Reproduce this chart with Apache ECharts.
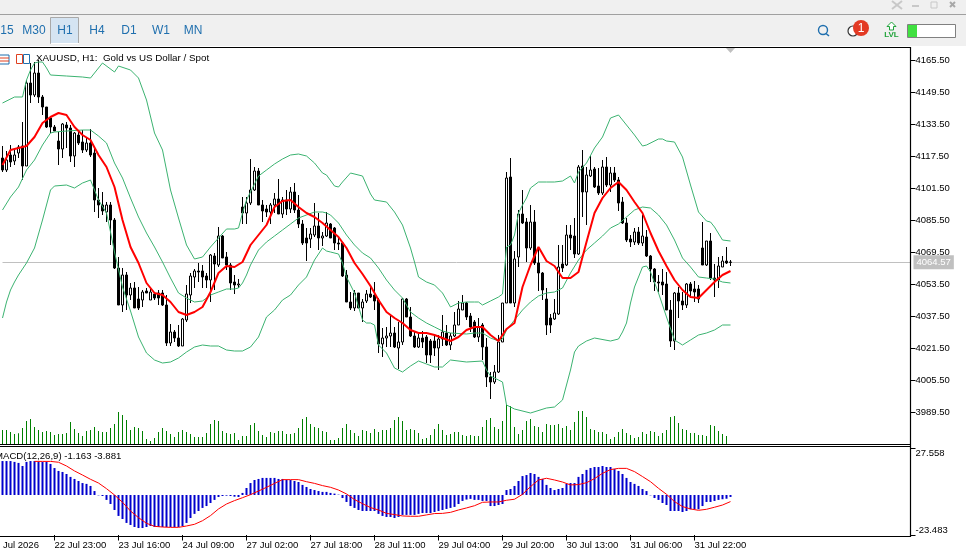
<!DOCTYPE html>
<html><head><meta charset="utf-8">
<style>html,body{margin:0;padding:0;background:#fff;overflow:hidden}#c{width:966px;height:551px}</style>
<script src="https://cdn.jsdelivr.net/npm/echarts@6/dist/echarts.min.js"></script>
</head><body><div id="c"></div>
<script>
const opens=[4116.75,4110.75,4118.25,4115.25,4119.25,4122.75,4112.75,4154.25,4148.25,4159.25,4147.25,4142.25,4136.75,4132.25,4125.25,4121.25,4133.25,4131.75,4117.75,4128.25,4124.75,4120.75,4124.25,4119.25,4095.75,4093.25,4089.75,4093.25,4085.75,4061.75,4043.25,4058.25,4048.25,4051.75,4046.25,4045.75,4050.25,4045.75,4048.75,4049.25,4049.25,4043.25,4024.25,4029.75,4026.75,4022.75,4035.75,4048.25,4057.25,4060.25,4060.25,4057.75,4055.75,4067.75,4063.25,4077.75,4067.25,4063.25,4054.75,4053.25,4092.25,4089.25,4094.25,4100.75,4110.25,4093.25,4091.25,4089.75,4093.25,4096.25,4088.75,4095.75,4091.25,4099.75,4090.75,4083.75,4076.75,4076.25,4078.25,4082.75,4076.75,4077.75,4083.75,4081.75,4074.25,4074.25,4058.25,4044.75,4041.75,4049.25,4041.75,4045.25,4048.75,4048.25,4045.75,4023.75,4026.75,4027.75,4029.25,4021.75,4024.75,4046.25,4037.25,4027.75,4022.25,4026.75,4027.25,4025.25,4025.25,4021.75,4026.25,4029.25,4023.25,4027.75,4033.25,4040.75,4044.25,4037.75,4034.75,4027.25,4033.25,4022.25,4007.25,4004.75,4009.75,4024.75,4044.25,4107.25,4044.25,4067.25,4088.75,4084.75,4071.75,4084.75,4064.25,4059.25,4046.25,4036.75,4036.25,4038.75,4063.75,4063.25,4078.25,4077.75,4068.75,4112.75,4099.75,4107.75,4111.25,4102.75,4099.25,4112.25,4103.25,4109.25,4105.75,4094.75,4084.25,4076.25,4074.75,4079.75,4074.25,4077.25,4067.75,4061.25,4054.75,4054.75,4053.75,4040.75,4025.25,4049.25,4045.25,4043.25,4053.75,4051.25,4051.25,4071.75,4063.25,4075.25,4056.75,4055.75,4062.25,4065.25,4064.75];
const closes=[4110.75,4115.75,4114.75,4118.25,4122.25,4112.75,4154.25,4148.25,4159.25,4147.25,4142.25,4132.25,4132.25,4130.25,4121.25,4133.75,4131.75,4117.75,4129.25,4124.25,4120.75,4124.25,4118.25,4095.75,4093.25,4090.25,4093.25,4085.75,4061.75,4043.25,4058.25,4048.25,4051.75,4041.75,4041.75,4049.75,4049.25,4049.75,4046.75,4046.75,4043.25,4024.25,4029.75,4026.75,4022.75,4036.25,4048.75,4057.75,4060.25,4059.75,4057.25,4055.75,4068.25,4063.75,4077.75,4066.75,4063.25,4054.25,4053.25,4053.75,4089.25,4094.25,4100.75,4110.25,4093.25,4090.25,4089.75,4093.25,4096.25,4088.75,4095.75,4091.25,4099.75,4090.75,4083.75,4074.25,4074.25,4078.75,4082.75,4076.75,4077.75,4084.25,4076.75,4074.25,4073.75,4057.75,4044.75,4041.75,4049.25,4041.75,4044.75,4048.75,4047.25,4045.25,4023.75,4026.75,4027.75,4029.25,4022.25,4024.75,4046.25,4037.25,4027.75,4022.25,4026.75,4024.75,4018.25,4018.25,4021.75,4026.25,4029.75,4023.25,4027.75,4033.25,4041.25,4044.25,4037.25,4032.25,4027.25,4032.25,4022.25,4007.25,4004.75,4009.75,4024.75,4044.25,4106.75,4044.25,4066.25,4088.75,4084.25,4071.75,4084.75,4064.25,4059.25,4050.75,4033.25,4033.25,4039.25,4062.25,4061.75,4078.25,4076.75,4068.75,4112.25,4099.75,4108.25,4110.75,4102.25,4099.25,4112.25,4103.25,4109.25,4105.75,4094.25,4084.25,4075.75,4074.75,4079.75,4074.25,4077.75,4067.75,4061.25,4054.75,4054.25,4053.25,4040.75,4025.25,4049.25,4045.25,4043.25,4053.75,4050.25,4049.75,4046.25,4063.25,4075.25,4056.75,4055.75,4062.75,4065.25,4064.25,4064.57];
const lows=[4109.75,4109.75,4112.25,4113.25,4116.75,4105.75,4112.75,4144.25,4147.25,4144.25,4138.25,4131.75,4129.25,4130.25,4113.25,4116.75,4121.75,4114.75,4112.25,4123.25,4119.25,4119.75,4117.25,4089.75,4086.75,4088.25,4084.75,4073.25,4061.25,4043.25,4039.75,4040.75,4045.75,4041.75,4040.75,4042.25,4049.25,4045.75,4045.75,4043.25,4042.75,4022.75,4022.75,4024.75,4022.25,4022.75,4034.75,4044.25,4051.75,4054.75,4051.75,4051.75,4044.75,4050.75,4062.25,4066.75,4060.75,4050.75,4048.75,4051.75,4083.75,4083.75,4093.25,4100.25,4093.25,4084.75,4087.25,4083.75,4089.25,4088.75,4086.75,4088.25,4089.25,4089.25,4081.75,4073.25,4065.25,4071.75,4077.25,4070.75,4072.75,4077.25,4076.75,4070.75,4070.75,4057.25,4044.75,4040.75,4040.25,4041.75,4034.75,4044.25,4046.75,4040.75,4019.25,4017.25,4022.25,4022.25,4021.75,4011.25,4023.25,4037.25,4027.25,4021.75,4021.75,4021.75,4014.25,4014.25,4017.75,4010.75,4022.75,4022.75,4020.75,4027.25,4033.25,4040.75,4035.75,4029.75,4026.75,4024.75,4015.75,4002.25,3996.25,4003.75,4009.25,4024.75,4044.25,4044.25,4042.25,4062.25,4083.75,4064.75,4070.75,4063.25,4050.25,4045.75,4028.25,4029.25,4035.75,4038.25,4059.75,4062.75,4070.75,4066.75,4068.25,4087.25,4083.25,4107.25,4101.75,4098.25,4098.25,4102.25,4099.75,4104.75,4090.25,4083.75,4074.75,4072.25,4073.25,4073.25,4072.75,4067.25,4054.75,4050.25,4049.75,4048.25,4040.75,4022.25,4020.75,4036.75,4040.75,4041.75,4046.75,4044.75,4044.25,4063.25,4062.75,4055.75,4047.25,4051.75,4062.25,4063.75,4062.75];
const highs=[4122.75,4120.25,4123.25,4121.75,4123.25,4134.75,4155.75,4164.25,4164.75,4165.75,4148.25,4142.25,4137.25,4133.25,4129.75,4134.25,4134.75,4133.25,4129.75,4129.75,4130.75,4127.25,4131.25,4121.75,4101.75,4099.75,4094.75,4094.75,4086.75,4067.25,4061.75,4059.75,4054.25,4054.75,4052.25,4050.75,4051.75,4051.75,4049.75,4050.75,4050.75,4048.25,4033.75,4030.75,4033.25,4036.75,4053.25,4059.25,4061.25,4064.25,4063.25,4059.25,4068.75,4069.25,4082.25,4078.25,4069.75,4064.25,4058.25,4056.25,4097.25,4097.25,4116.25,4112.25,4111.75,4095.75,4093.25,4094.25,4099.25,4106.25,4097.25,4100.75,4102.25,4104.25,4098.25,4085.75,4081.75,4081.75,4094.25,4089.25,4079.75,4089.75,4084.25,4082.25,4076.75,4074.75,4060.75,4049.75,4050.75,4049.25,4046.25,4050.75,4052.25,4054.75,4046.75,4031.75,4032.25,4038.25,4032.25,4034.75,4046.75,4046.75,4042.25,4029.75,4029.25,4030.25,4028.25,4026.25,4028.25,4028.25,4038.25,4033.25,4029.25,4039.75,4045.25,4048.25,4044.75,4039.25,4035.75,4036.75,4034.25,4026.75,4009.75,4013.25,4028.25,4044.25,4109.75,4116.75,4070.25,4090.75,4100.75,4086.75,4093.25,4090.75,4071.75,4059.75,4051.75,4038.75,4046.25,4073.25,4073.25,4083.25,4083.25,4086.75,4113.25,4120.75,4112.25,4118.25,4112.25,4111.75,4115.75,4117.25,4112.25,4112.25,4107.25,4097.25,4086.75,4078.25,4081.75,4082.25,4088.25,4080.75,4068.25,4061.75,4058.25,4061.25,4059.75,4045.75,4049.75,4052.25,4049.75,4054.25,4054.75,4055.25,4053.25,4084.75,4075.25,4079.25,4063.75,4067.25,4067.75,4072.25,4065.75];
const volumes=[42,42,36,30,32,48,69,75,51,42,36,39,36,27,30,30,33,66,45,33,24,39,42,51,39,36,36,48,60,96,87,72,42,51,48,39,15,9,18,36,48,39,30,21,36,42,36,30,21,21,21,33,60,72,69,39,33,30,33,12,24,24,57,63,39,27,21,36,33,39,39,30,30,33,48,75,81,60,51,48,39,36,12,12,18,48,60,42,33,24,42,39,33,45,36,42,42,48,72,81,69,42,45,42,33,15,18,27,45,60,42,27,30,36,36,27,24,27,24,24,51,72,78,51,45,69,117,114,51,30,42,69,75,54,51,36,60,57,57,60,48,54,42,66,99,99,81,45,42,36,36,30,15,21,36,45,33,27,18,21,36,30,39,36,24,33,42,81,84,63,45,42,33,33,27,27,24,57,54,39,30,24];
const macd=[19.9,19.9,19.9,19.4,18.8,17.0,19.4,19.9,19.9,19.4,19.4,19.4,18.2,15.8,14.1,13.5,12.3,10.6,9.4,8.2,7.0,6.5,5.3,2.3,-0.2,-0.6,-2.9,-5.3,-8.8,-12.3,-14.1,-16.4,-17.6,-18.8,-19.4,-19.4,-18.8,-18.2,-18.8,-18.8,-18.8,-18.8,-18.8,-18.8,-18.8,-18.2,-16.4,-13.5,-11.1,-9.4,-7.6,-6.5,-4.7,-2.9,-1.2,-0.6,-0.4,-0.6,-1.0,-1.2,1.2,4.1,7.0,8.8,9.4,10.0,10.0,10.0,10.0,9.4,9.4,8.8,8.8,8.2,7.6,5.9,4.7,3.5,2.9,2.3,1.8,1.8,1.2,0.8,0.2,-1.8,-4.1,-6.5,-7.6,-8.8,-9.4,-9.4,-9.4,-9.4,-11.1,-12.3,-12.9,-12.9,-13.5,-12.9,-11.7,-11.7,-11.7,-11.7,-11.1,-10.6,-10.6,-10.6,-10.0,-9.4,-8.8,-8.2,-7.6,-7.0,-5.3,-3.5,-2.7,-2.3,-2.9,-2.9,-3.5,-3.5,-6.5,-6.5,-5.9,-5.3,2.9,3.5,5.3,8.2,11.1,11.7,12.9,12.3,10.6,9.4,5.9,4.1,2.9,3.5,4.1,6.5,7.0,7.0,10.6,12.3,14.7,15.8,16.4,16.4,17.0,16.4,16.4,15.2,14.1,12.3,10.0,7.6,6.5,5.3,3.5,2.3,-0.2,-1.8,-2.9,-4.7,-5.9,-9.4,-9.4,-9.4,-10.0,-9.4,-8.4,-8.4,-8.4,-6.5,-4.1,-4.1,-3.5,-2.9,-2.5,-2.2,-1.163];
// signal line: read every second bar from bar 8 on
const signalRead=[19.7,19.7,19.7,19.2,17.0,14.1,11.7,9.2,7.0,3.7,0,-4.3,-9.4,-13.3,-16.6,-18.4,-18.8,-19.0,-19.0,-18.2,-17.2,-15.1,-12.1,-8.2,-5.3,-3.3,-1.6,0.2,2.3,4.5,6.8,9.0,9.0,9.0,7.8,6.8,5.5,4.5,2.9,0.6,-2.7,-5.1,-7.4,-8.8,-10.8,-11.5,-12.3,-12.5,-12.5,-11.7,-10.9,-10.8,-10.2,-8.8,-7.6,-6.3,-4.3,-4.1,-4.1,-3.1,-2.5,0.4,4.9,8.8,9.8,8.8,7.6,5.9,6.1,7.2,9.6,12.7,14.9,15.6,15.6,13.7,10.8,7.8,3.9,0.4,-3.9,-6.8,-8.2,-9.0,-8.4,-7.2,-5.9,-3.881];
// thick red moving average: read every second bar from bar 0
const maRead=[4113.25,4120.75,4121.75,4122.75,4127.25,4134.25,4137.25,4139.25,4138.25,4132.25,4128.25,4125.75,4118.25,4112.25,4102.25,4085.75,4072.25,4064.25,4054.25,4049.25,4048.25,4044.75,4039.75,4038.25,4039.75,4042.25,4049.75,4059.25,4062.75,4062.25,4064.75,4073.25,4078.25,4083.25,4092.25,4095.25,4095.75,4092.25,4089.25,4087.25,4084.25,4080.75,4077.25,4071.75,4064.25,4058.75,4052.75,4045.75,4039.75,4036.75,4034.25,4030.75,4029.25,4029.25,4028.25,4026.75,4025.25,4027.25,4030.75,4032.25,4032.25,4028.25,4025.25,4031.25,4034.25,4052.25,4063.25,4072.25,4065.25,4062.75,4056.75,4056.75,4059.75,4074.75,4089.25,4096.75,4101.75,4104.75,4100.75,4094.75,4089.25,4079.25,4070.25,4062.75,4055.75,4050.75,4047.25,4046.75,4050.75,4054.75,4058.25,4060.25];
// bands: bars at which each curve was read, and the price read there
const upperBars=[0,3,5,6,7,8,9,10,11,12,16,20,22,24,25,28,29,32,34,36,38,40,42,44,46,48,50,52,54,56,58,59,60,61,62,64,66,68,70,72,74,76,78,80,81,83,84,85,87,90,92,93,96,98,100,102,103,104,106,108,110,112,114,116,118,119,120,122,124,125,126,127,128,129,130,131,132,134,136,138,140,142,143,144,146,148,150,152,154,156,158,160,161,164,165,166,168,170,172,174,176,177,178,180,182];
const bandUpper=[4144.25,4147.25,4147.25,4155.75,4160.75,4164.25,4164.75,4164.75,4161.75,4158.25,4157.75,4157.25,4156.75,4161.75,4164.25,4159.75,4162.75,4160.75,4156.75,4145.75,4129.25,4120.75,4100.75,4086.75,4073.25,4066.25,4067.25,4072.25,4076.75,4081.25,4081.25,4081.75,4089.25,4095.75,4099.75,4107.75,4110.75,4113.75,4116.25,4118.25,4118.75,4117.75,4114.25,4109.25,4108.25,4102.75,4102.25,4104.75,4109.25,4107.75,4098.75,4095.75,4094.75,4089.75,4083.25,4071.75,4064.75,4057.25,4054.75,4053.25,4049.25,4042.25,4044.25,4044.75,4044.75,4044.75,4043.25,4045.25,4047.25,4048.75,4072.25,4073.25,4078.25,4089.25,4093.25,4096.75,4101.75,4104.75,4104.75,4104.75,4105.25,4107.75,4104.25,4109.75,4114.25,4121.75,4127.25,4136.75,4138.25,4133.25,4128.25,4122.75,4123.25,4126.25,4126.25,4125.25,4124.75,4117.25,4103.25,4089.75,4085.25,4084.75,4082.25,4075.75,4075.25];
const middleBars=[0,2,4,6,8,10,12,13,16,20,22,24,26,28,30,32,34,36,38,40,42,44,46,48,50,52,54,56,58,59,60,61,62,64,66,68,70,72,74,76,78,80,81,82,84,86,88,90,92,94,96,98,100,102,104,106,108,110,112,116,118,120,122,124,125,126,128,130,132,134,136,138,140,142,144,146,148,150,152,154,156,158,160,162,164,166,168,170,172,174,176,178,180,182];
const bandMiddle=[4090.75,4097.25,4102.25,4110.75,4115.75,4123.25,4129.25,4129.75,4130.25,4130.75,4130.75,4127.75,4124.25,4114.25,4106.75,4096.75,4087.25,4079.25,4072.25,4064.75,4056.75,4049.25,4046.75,4044.75,4045.25,4048.25,4049.75,4051.25,4051.25,4051.75,4054.25,4058.25,4063.25,4070.75,4074.75,4077.75,4080.75,4083.75,4086.75,4088.25,4089.75,4089.75,4089.25,4088.25,4084.25,4078.25,4073.25,4069.25,4066.75,4061.75,4055.75,4050.75,4046.75,4039.75,4036.75,4034.25,4032.25,4030.25,4029.25,4028.75,4029.25,4029.25,4026.75,4025.25,4026.25,4030.75,4035.75,4040.75,4044.75,4047.75,4049.25,4049.75,4051.75,4059.25,4065.75,4070.75,4074.25,4077.75,4081.75,4083.75,4087.25,4090.75,4092.25,4091.75,4088.25,4083.25,4075.75,4066.75,4062.25,4057.25,4056.75,4056.25,4054.75,4054.25];
const lowerBars=[0,1,2,3,4,6,8,10,11,12,13,16,18,20,22,23,24,26,27,28,30,32,34,36,38,40,42,44,46,48,50,52,54,56,58,60,62,64,66,68,70,72,74,76,78,80,81,82,84,85,86,88,90,91,92,93,94,96,98,100,102,104,106,108,110,112,116,120,121,122,124,125,126,128,132,136,138,140,142,143,144,146,148,152,154,155,156,157,158,160,161,162,164,166,168,170,172,174,176,178,180,182];
const bandLower=[4036.75,4044.75,4050.75,4054.75,4058.25,4064.25,4071.75,4085.75,4093.25,4100.75,4102.75,4103.25,4101.75,4104.25,4105.75,4100.75,4095.75,4089.25,4079.75,4069.75,4052.25,4040.25,4027.25,4019.25,4015.75,4014.25,4014.75,4016.75,4019.75,4022.25,4023.25,4022.75,4022.75,4020.75,4020.25,4020.25,4022.25,4027.25,4037.25,4040.75,4045.75,4048.25,4053.25,4057.25,4065.75,4071.75,4070.25,4069.75,4068.75,4064.25,4057.25,4049.25,4035.75,4034.25,4034.25,4033.25,4023.25,4019.25,4011.75,4009.75,4012.75,4015.25,4013.75,4012.25,4012.25,4015.75,4014.75,4015.25,4010.75,4007.75,4005.75,4004.75,3993.25,3991.25,3989.25,3991.75,3992.25,3995.75,4010.75,4019.75,4022.75,4025.25,4026.75,4025.25,4026.25,4029.75,4034.25,4044.25,4052.25,4062.25,4062.75,4059.75,4049.25,4037.25,4025.75,4023.25,4025.75,4028.25,4029.25,4030.75,4033.25,4033.25];
const priceTicks=[4165.5,4149.5,4133.5,4117.5,4101.5,4085.5,4069.5,4053.5,4037.5,4021.5,4005.5,3989.5];
const macdTicks=[-23.483,27.558];
const timeBars=[13,29,45,61,77,93,109,125,141,157,173];
const timeLabels=['22 Jul 23:00','23 Jul 16:00','24 Jul 09:00','27 Jul 02:00','27 Jul 18:00','28 Jul 11:00','29 Jul 04:00','29 Jul 20:00','30 Jul 13:00','31 Jul 06:00','31 Jul 22:00'];
const periodButtons=['15','M30','H1','H4','D1','W1','MN'];
const title='XAUUSD, H1:  Gold vs US Dollar / Spot';
const macdTitle='MACD(12,26,9) -1.163 -3.881';
const lastPrice=4064.57;

const totalSlots=228;
const cats=Array.from({length:totalSlots},(_,i)=>String(i));
const candle=opens.map((o,i)=>[o,closes[i],lows[i],highs[i]]);
const pairs=(bars,vals)=>vals.map((v,i)=>[bars[i],v]);
const maData=maRead.map((v,i)=>[i*2,v]);
const sigData=signalRead.map((v,i)=>[8+i*2,v]);
const FONT='"Liberation Sans",sans-serif';
const band=(name,bars,vals)=>({name,type:'line',xAxisIndex:0,yAxisIndex:0,data:pairs(bars,vals),showSymbol:false,symbol:'none',clip:false,
  lineStyle:{color:'#3cb371',width:1},z:4,silent:true});

const btnX=[7,34,65,97,129,161,193];
const g=[];
const rect=(x,y,w,h,fill,stroke)=>g.push({type:'rect',silent:true,z:50,shape:{x,y,width:w,height:h},style:{fill:fill||'transparent',stroke:stroke||null,lineWidth:1}});
const line=(x1,y1,x2,y2,c,w)=>g.push({type:'line',silent:true,z:50,shape:{x1,y1,x2,y2},style:{stroke:c,lineWidth:w||1}});
const text=(x,y,t,c,f,al)=>g.push({type:'text',silent:true,z:51,x,y,style:{text:t,fill:c,font:f,textAlign:al||'left',textVerticalAlign:'middle'}});
rect(0,0,966,46,'#f0f0f0');
line(0,14.5,966,14.5,'#a0a0a0',1);
rect(50.5,17.5,28,26,'#d5e4f2','#a9a9a9');
line(51,43.5,79,43.5,'#ffffff',1);
periodButtons.forEach((t,i)=>text(btnX[i],30.5,t,'#1f6fae','12px "Liberation Sans"','center'));
// frames
line(0,47.5,911,47.5,'#000',1.2);
line(0,444.5,911,444.5,'#000',1.2);
line(0,446.5,911,446.5,'#000',1.2);
line(0,536.5,911,536.5,'#000',1.2);
line(910.5,47,910.5,537,'#000',1.2);
// panel icons and titles
rect(-3,55,12,9,'#fff','#1f6fae');line(-3,58,9,58,'#e04020',1);line(-3,61,9,61,'#e04020',1);
rect(16.5,54.5,6,9,'#fff','#e04020');rect(23.5,54.5,6,9,'#fff','#1f6fae');
text(36,58.5,title,'#000','9.8px '+FONT);
text(-5,456,macdTitle,'#000','9.6px '+FONT);
text(3,545.5,'Jul 2026','#000','9.5px '+FONT);
g.push({type:'polygon',silent:true,z:50,shape:{points:[[726,48],[735,48],[730.5,53]]},style:{fill:'#c0c0c0'}});
// top-right window and tools
line(892,1,902,9,'#c8c8c8',2);line(902,1,892,9,'#c8c8c8',2);
line(912,6,919,6,'#c8c8c8',2);rect(931,2,6,6,null,'#c8c8c8');line(950,2,955,7,'#a8a8a8',2);line(955,2,950,7,'#a8a8a8',2);
g.push({type:'circle',silent:true,z:50,shape:{cx:823,cy:30,r:4.5},style:{fill:'transparent',stroke:'#1f6fae',lineWidth:1.4}});
line(826,33.5,829,36,'#1f6fae',1.6);
g.push({type:'circle',silent:true,z:50,shape:{cx:853,cy:31,r:5},style:{fill:'#fff',stroke:'#333',lineWidth:1.2}});
g.push({type:'circle',silent:true,z:51,shape:{cx:861,cy:28,r:8},style:{fill:'#e33a24'}});
text(861,28.5,'1','#fff','12px "Liberation Sans"','center');
g[g.length-1].z=52;
g.push({type:'polygon',silent:true,z:50,shape:{points:[[891.5,22],[896,26.5],[893.5,26.5],[893.5,30],[889.5,30],[889.5,26.5],[887,26.5]]},style:{fill:'#fff',stroke:'#1fa33a',lineWidth:1}});
text(891.5,35,'LVL','#1fa33a','bold 8px "Liberation Sans"','center');
rect(907.5,24.5,48,13,'#fff','#808080');
rect(908,25,9,12,'#40e040');

const opt={
 animation:false,backgroundColor:'#fff',
 grid:[{left:2.5,width:908,top:47,height:397},{left:2.5,width:908,top:448,height:87}],
 xAxis:[
  {type:'category',gridIndex:0,data:cats,boundaryGap:false,axisLine:{show:false,onZero:false},axisTick:{show:false},axisLabel:{show:false},splitLine:{show:false}},
  {type:'category',gridIndex:1,data:cats,boundaryGap:false,axisLine:{show:false,onZero:false},
   axisTick:{show:true,length:5.5,interval:i=>timeBars.includes(i),lineStyle:{color:'#000',width:1}},
   axisLabel:{interval:i=>timeBars.includes(i),formatter:v=>timeLabels[timeBars.indexOf(Number(v))]||'',align:'left',margin:5,color:'#000',fontFamily:FONT,fontSize:9.5,hideOverlap:false,showMinLabel:true,showMaxLabel:true},
   splitLine:{show:false}}
 ],
 yAxis:[
  {type:'value',gridIndex:0,position:'right',min:3973.75,max:4172.25,axisLine:{show:false},
   axisTick:{show:true,length:5,customValues:priceTicks,lineStyle:{color:'#000'}},
   axisLabel:{customValues:priceTicks,formatter:v=>v.toFixed(2),color:'#000',fontFamily:FONT,fontSize:9.5,margin:5,showMinLabel:true,showMaxLabel:true},splitLine:{show:false}},
  {type:'value',gridIndex:0,position:'left',min:0,max:1191,show:false,splitLine:{show:false}},
  {type:'value',gridIndex:1,position:'right',min:-23.483,max:27.558,axisLine:{show:false},
   axisTick:{show:true,length:5,customValues:macdTicks,lineStyle:{color:'#000'}},
   axisLabel:{customValues:macdTicks,formatter:v=>v.toFixed(3),color:'#000',fontFamily:FONT,fontSize:9.5,margin:5,verticalAlignMinLabel:'bottom',verticalAlignMaxLabel:'top',showMinLabel:true,showMaxLabel:true},splitLine:{show:false}}
 ],
 series:[
  {name:'Volume',type:'bar',xAxisIndex:0,yAxisIndex:1,data:volumes,barWidth:1,clip:false,itemStyle:{color:'#008000'},silent:true,z:1},
  {name:'XAUUSD',type:'candlestick',xAxisIndex:0,yAxisIndex:0,data:candle,barWidth:3,clip:false,silent:true,z:3,
   itemStyle:{color:'#fff',color0:'#000',borderColor:'#000',borderColor0:'#000',borderWidth:1},
   markLine:{silent:true,symbol:'none',z:2,animation:false,data:[{yAxis:lastPrice}],lineStyle:{color:'#c0c0c0',width:1,type:'solid'},
     label:{show:true,position:'end',formatter:()=>lastPrice.toFixed(2),distance:3,backgroundColor:'#c0c0c0',color:'#fff',fontFamily:FONT,fontSize:9.5,padding:[2,3,2,3]}}},
  band('Upper',upperBars,bandUpper),band('Middle',middleBars,bandMiddle),band('Lower',lowerBars,bandLower),
  {name:'MA',type:'line',xAxisIndex:0,yAxisIndex:0,data:maData,symbol:'none',clip:false,lineStyle:{color:'#ff0000',width:2},z:5,silent:true},
  {name:'MACD',type:'bar',xAxisIndex:1,yAxisIndex:2,data:macd,barWidth:2,clip:false,itemStyle:{color:'#0000cd'},silent:true,z:1},
  {name:'Signal',type:'line',xAxisIndex:1,yAxisIndex:2,data:sigData,symbol:'none',clip:false,lineStyle:{color:'#ff0000',width:1},z:3,silent:true}
 ],
 graphic:g
};
echarts.init(document.getElementById('c'),null,{renderer:'canvas'}).setOption(opt);
</script></body></html>
